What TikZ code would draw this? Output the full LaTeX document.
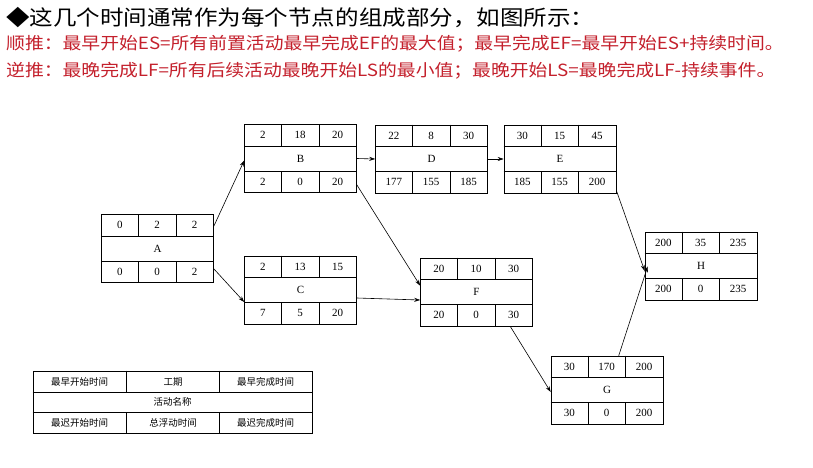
\documentclass[tikz,border=0pt]{standalone}
\usepackage{fontspec}
\setmainfont{Liberation Serif}
\newfontfamily\cjk{Noto Sans CJK SC}
\usetikzlibrary{calc,arrows.meta}
\definecolor{hdred}{HTML}{C4202C}
\tikzset{
  actbox/.style={draw, line width=0.6pt, minimum width=112pt, minimum height=68pt, inner sep=0pt},
  inner/.style={line width=0.5pt},
  num/.style={font=\fontsize{11}{11}\selectfont},
  conn/.style={line width=0.6pt, -{Stealth[length=6pt,width=4pt]}},
  hdr/.style={anchor=base west, inner sep=0pt, font=\cjk}
}
% \actnode{name}{cx}{cy}{a}{b}{c}{label}{d}{e}{f}
\newcommand\actnode[9]{%
  \node[actbox] (#1) at (#2,#3) {};
  \draw[inner] ($(#1.north west)+(0,-22pt)$) -- ($(#1.north east)+(0,-22pt)$);
  \draw[inner] ($(#1.south west)+(0,22pt)$) -- ($(#1.south east)+(0,22pt)$);
  \draw[inner] ($(#1.north west)+(37.33pt,0)$) -- ++(0,-22pt);
  \draw[inner] ($(#1.north west)+(74.67pt,0)$) -- ++(0,-22pt);
  \draw[inner] ($(#1.south west)+(37.33pt,0)$) -- ++(0,22pt);
  \draw[inner] ($(#1.south west)+(74.67pt,0)$) -- ++(0,22pt);
  \node[num] at ($(#1.north west)+(18.67pt,-11pt)$) {#4};
  \node[num] at ($(#1.north west)+(56pt,-11pt)$) {#5};
  \node[num] at ($(#1.north west)+(93.33pt,-11pt)$) {#6};
  \node[num] at (#1.center) {#7};
  \actbottom{#1}{#8}{#9}}
\newcommand\actbottom[3]{%
  \node[num] at ($(#1.south west)+(18.67pt,11pt)$) {#2};
  \node[num] at ($(#1.south west)+(56pt,11pt)$) {#3};
  \actlast{#1}}
\newcommand\actlast[2]{\node[num] at ($(#1.south west)+(93.33pt,11pt)$) {#2};}
\begin{document}
\begin{tikzpicture}[x=1pt,y=1pt]
\useasboundingbox[fill=white] (0,0) rectangle (813,467);
% header
\node[hdr, xscale=1.12, font=\cjk\fontsize{21}{21}\selectfont] (h1) at (6,441) {◆这几个时间通常作为每个节点的组成部分，如图所示：};
\node[hdr, xscale=1.12, text=hdred, font=\cjk\fontsize{16.8}{17}\selectfont] (h2) at (6,417) {顺推：最早开始ES=所有前置活动最早完成EF的最大值；最早完成EF=最早开始ES+持续时间。};
\node[hdr, xscale=1.12, text=hdred, font=\cjk\fontsize{16.8}{17}\selectfont] (h3) at (6,391) {逆推：最晚完成LF=所有后续活动最晚开始LS的最小值；最晚开始LS=最晚完成LF-持续事件。};
% nodes
\actnode{A}{157.5}{218.5}{0}{2}{2}{A}{0}{0}{2}
\actnode{B}{300.5}{308.5}{2}{18}{20}{B}{2}{0}{20}
\actnode{C}{300.5}{177}{2}{13}{15}{C}{7}{5}{20}
\actnode{D}{431.5}{308}{22}{8}{30}{D}{177}{155}{185}
\actnode{E}{560}{308}{30}{15}{45}{E}{185}{155}{200}
\actnode{F}{476.5}{175}{20}{10}{30}{F}{20}{0}{30}
\actnode{G}{607}{77}{30}{170}{200}{G}{30}{0}{200}
\actnode{H}{701}{201}{200}{35}{235}{H}{200}{0}{235}
% connectors
\draw[conn] ($(A.north east)+(0,-12)$) -- ($(B.west)+(0,-2)$);
\draw[conn] ($(A.south east)+(0,14)$) -- ($(C.west)+(0,-12)$);
\draw[conn] (B.east) -- (D.west);
\draw[conn] ($(B.south east)+(0,8)$) -- ($(F.north west)+(0,-28)$);
\draw[conn] ($(C.east)+(0,-8)$) -- ($(F.west)+(0,-8)$);
\draw[conn] (D.east) -- (E.west);
\draw[conn] ($(E.south east)+(0,3)$) -- ($(H.west)+(0,-5)$);
\draw[conn] ($(F.south west)+(90,0)$) -- ($(G.west)+(0,-2)$);
\draw[conn] ($(G.north west)+(68,0)$) -- ($(H.south west)+(3,34)$);
% legend
\node[draw, line width=0.6pt, minimum width=279pt, minimum height=62pt, inner sep=0pt] (L) at (172.5,65) {};
\draw[inner] ($(L.north west)+(0,-22)$) -- ($(L.north east)+(0,-22)$);
\draw[inner] ($(L.south west)+(0,21)$) -- ($(L.south east)+(0,21)$);
\draw[inner] ($(L.north west)+(94,0)$) -- ++(0,-22);
\draw[inner] ($(L.north west)+(187,0)$) -- ++(0,-22);
\draw[inner] ($(L.south west)+(94,0)$) -- ++(0,21);
\draw[inner] ($(L.south west)+(187,0)$) -- ++(0,21);
\node[font=\cjk\fontsize{9.5}{9.5}\selectfont] (l1) at ($(L.north west)+(47,-11)$) {最早开始时间};
\node[font=\cjk\fontsize{9.5}{9.5}\selectfont] (l2) at ($(L.north west)+(140.5,-11)$) {工期};
\node[font=\cjk\fontsize{9.5}{9.5}\selectfont] (l3) at ($(L.north west)+(233,-11)$) {最早完成时间};
\node[font=\cjk\fontsize{9.5}{9.5}\selectfont] (l4) at ($(L.center)+(0,0.5)$) {活动名称};
\node[font=\cjk\fontsize{9.5}{9.5}\selectfont] (l5) at ($(L.south west)+(47,10.5)$) {最迟开始时间};
\node[font=\cjk\fontsize{9.5}{9.5}\selectfont] (l6) at ($(L.south west)+(140.5,10.5)$) {总浮动时间};
\node[font=\cjk\fontsize{9.5}{9.5}\selectfont] (l7) at ($(L.south west)+(233,10.5)$) {最迟完成时间};
\end{tikzpicture}
\end{document}
